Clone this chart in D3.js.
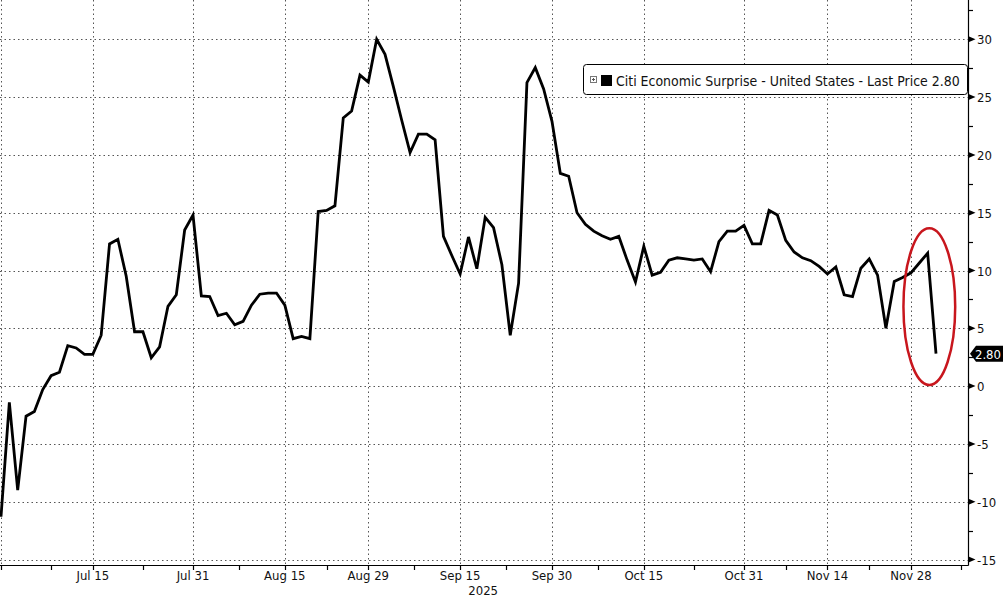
<!DOCTYPE html>
<html>
<head>
<meta charset="utf-8">
<script src="https://cdn.jsdelivr.net/npm/d3@7"></script>
<style>
  html, body { margin: 0; padding: 0; background: #fff; }
  svg text { font-family: 'DejaVu Sans Condensed', 'Liberation Sans Narrow', 'Liberation Sans', Arial, sans-serif; }
</style>
</head>
<body>
<svg id="surprise"></svg>
<script>
//series data (one value per weekday, Jun 30 2025 -> Dec 3 2025)
var startDate = '2025-06-30';
var endDate = '2025-12-03';
var surprise = [
  -11.3, -1.4, -9.0, -2.6, -2.2, -0.3, 0.9, 1.2, 3.5, 3.3,
  2.75, 2.75, 4.4, 12.3, 12.7, 9.5, 4.7, 4.7, 2.45, 3.4,
  6.9, 7.9, 13.5, 14.8, 7.8, 7.75, 6.1, 6.3, 5.3, 5.6,
  7.0, 7.95, 8.05, 8.05, 7.0, 4.1, 4.3, 4.1, 15.1, 15.2,
  15.6, 23.2, 23.8, 26.9, 26.3, 30.0, 28.7, 25.9, 23.0, 20.2,
  21.8, 21.8, 21.3, 12.95, 11.3, 9.7, 12.9, 10.15, 14.6, 13.7,
  10.5, 4.4, 8.9, 26.25, 27.55, 25.7, 22.9, 18.4, 18.15, 15.0,
  14.0, 13.4, 13.0, 12.7, 12.95, 10.9, 9.0, 12.1, 9.6, 9.85,
  10.9, 11.1, 11.0, 10.9, 11.0, 9.9, 12.5, 13.4, 13.4, 13.9,
  12.3, 12.3, 15.2, 14.8, 12.6, 11.6, 11.1, 10.85, 10.35, 9.7,
  10.3, 7.9, 7.75, 10.2, 11.0, 9.6, 5.0, 9.05, 9.4, 9.8,
  10.65, 11.5, 2.8
];

//axis ticks
var tickDates = ['2025-07-15', '2025-07-31', '2025-08-15', '2025-08-29', '2025-09-15',
                 '2025-09-30', '2025-10-15', '2025-10-31', '2025-11-14', '2025-11-28'];
var tickLabels = ['Jul 15', 'Jul 31', 'Aug 15', 'Aug 29', 'Sep 15',
                  'Sep 30', 'Oct 15', 'Oct 31', 'Nov 14', 'Nov 28'];
var minorTickIdx = [0, 6, 17, 28.5, 39, 49.5, 60.5, 71.5, 83, 94, 104, 115];
var yTicks = [-15, -10, -5, 0, 5, 10, 15, 20, 25, 30];
var yMinorTicks = [-12.5, -7.5, -2.5, 2.5, 7.5, 12.5, 17.5, 22.5, 27.5, 32.5];
var yearLabel = '2025';

//legend + last value
var seriesName = 'Citi Economic Surprise - United States';
var lastPrice = 2.80;

//highlight ellipse (index span, value span)
var highlight = {i0: 108.1, i1: 114.3, v0: 0.1, v1: 13.65};

function surpriseChart() {
    var svg = d3.select('#surprise')
        .attr('width', 1003)
        .attr('height', 597)
        .style('display', 'block')
        .style('background-color', '#fff');

    //plot extent
    var axisX = 968,
        axisY = 565;

    //weekday dates
    var days = d3.utcDay.range(new Date(startDate), d3.utcDay.offset(new Date(endDate), 1))
        .filter(d => d.getUTCDay() > 0 && d.getUTCDay() < 6);
    var dayKey = d3.utcFormat('%Y-%m-%d');
    var idx = new Map(days.map((d, i) => [dayKey(d), i]));

    var x = d3.scaleLinear().domain([0, surprise.length - 1]).range([1, 936]);
    var y = d3.scaleLinear().domain([-15, 30]).range([559.5, 39.3]);

    var grid = svg.append('g')
        .attr('class', 'grid')
        .attr('stroke', '#555')
        .attr('stroke-width', 1)
        .attr('stroke-dasharray', '1.5,3');

    //horizontal gridlines
    grid.selectAll('line.h').data(yTicks)
        .enter().append('line')
            .attr('class', 'h')
            .attr('x1', 0).attr('x2', axisX)
            .attr('y1', d => Math.round(y(d)) + 0.5)
            .attr('y2', d => Math.round(y(d)) + 0.5);

    //vertical gridlines
    grid.selectAll('line.v').data([0].concat(tickDates.map(d => idx.get(d))))
        .enter().append('line')
            .attr('class', 'v')
            .attr('x1', d => Math.round(x(d)) + 0.5)
            .attr('x2', d => Math.round(x(d)) + 0.5)
            .attr('y1', 0).attr('y2', axisY);

    //series line
    var line = d3.line()
        .x((d, i) => x(i))
        .y(d => y(d));

    svg.append('path')
        .datum(surprise)
        .attr('fill', 'none')
        .attr('stroke', '#000')
        .attr('stroke-width', 2.8)
        .attr('stroke-linejoin', 'miter')
        .attr('d', line);

    //red highlight ellipse
    svg.append('ellipse')
        .attr('cx', (x(highlight.i0) + x(highlight.i1)) / 2)
        .attr('cy', (y(highlight.v0) + y(highlight.v1)) / 2)
        .attr('rx', (x(highlight.i1) - x(highlight.i0)) / 2)
        .attr('ry', (y(highlight.v0) - y(highlight.v1)) / 2)
        .attr('fill', 'none')
        .attr('stroke', '#c8161d')
        .attr('stroke-width', 2.5);

    //axis lines
    var axes = svg.append('g').attr('stroke', '#000').attr('stroke-width', 1.2);
    axes.append('line')
        .attr('x1', 0).attr('x2', axisX + 0.5)
        .attr('y1', axisY + 0.5).attr('y2', axisY + 0.5);
    axes.append('line')
        .attr('x1', axisX + 0.5).attr('x2', axisX + 0.5)
        .attr('y1', 0).attr('y2', axisY + 0.5);

    //bottom ticks
    var xTickPos = tickDates.map(d => idx.get(d)).concat(minorTickIdx);
    axes.selectAll('line.xt').data(xTickPos)
        .enter().append('line')
            .attr('class', 'xt')
            .attr('x1', d => Math.round(x(d)) + 0.5)
            .attr('x2', d => Math.round(x(d)) + 0.5)
            .attr('y1', axisY).attr('y2', axisY + 5);

    svg.append('g')
        .selectAll('text').data(tickDates)
        .enter().append('text')
            .attr('x', d => x(idx.get(d)))
            .attr('y', 580)
            .attr('text-anchor', 'middle')
            .attr('font-size', 13)
            .attr('fill', '#111')
            .text((d, i) => tickLabels[i]);

    svg.append('text')
        .attr('x', x(idx.get('2025-09-15')) + 23)
        .attr('y', 594.5)
        .attr('text-anchor', 'middle')
        .attr('font-size', 13)
        .attr('fill', '#111')
        .text(yearLabel);

    //right axis ticks
    axes.selectAll('line.ym').data(yMinorTicks)
        .enter().append('line')
            .attr('class', 'ym')
            .attr('x1', axisX).attr('x2', axisX + 5)
            .attr('y1', d => Math.round(y(d)) + 0.5)
            .attr('y2', d => Math.round(y(d)) + 0.5);

    var yAxis = svg.append('g').attr('class', 'y-axis');
    yAxis.selectAll('path').data(yTicks)
        .enter().append('path')
            .attr('fill', '#000')
            .attr('d', d => 'M' + (axisX + 0.5) + ',' + (y(d) - 3) + 'L' + (axisX + 7.5) + ',' + y(d) + 'L' + (axisX + 0.5) + ',' + (y(d) + 3) + 'Z');
    yAxis.selectAll('text').data(yTicks)
        .enter().append('text')
            .attr('x', 977)
            .attr('y', d => y(d) + 5)
            .attr('font-size', 13)
            .attr('fill', '#111')
            .text(d => d < 0 ? '-' + Math.abs(d) : d);

    //last price tag
    var ly = y(lastPrice);
    svg.append('path')
        .attr('fill', '#000')
        .attr('d', 'M' + (axisX + 2) + ',' + ly + 'L' + (axisX + 8) + ',' + (ly - 8) + 'L1003,' + (ly - 8) +
                   'L1003,' + (ly + 8) + 'L' + (axisX + 8) + ',' + (ly + 8) + 'Z');
    svg.append('text')
        .attr('x', 1001)
        .attr('y', ly + 5)
        .attr('text-anchor', 'end')
        .attr('font-size', 13)
        .attr('fill', '#fff')
        .text(lastPrice.toFixed(2));

    //legend
    var legend = svg.append('g').attr('class', 'legend');
    legend.append('rect')
        .attr('x', 583.5).attr('y', 64.5)
        .attr('width', 384).attr('height', 30)
        .attr('rx', 3)
        .attr('fill', '#fff')
        .attr('stroke', '#000')
        .attr('stroke-width', 1);
    legend.append('rect')
        .attr('x', 590.5).attr('y', 76.5)
        .attr('width', 6).attr('height', 6)
        .attr('fill', '#fff')
        .attr('stroke', '#777')
        .attr('stroke-width', 1);
    legend.append('path')
        .attr('stroke', '#555')
        .attr('d', 'M592,79.5H595M593.5,78V81');
    legend.append('rect')
        .attr('x', 601).attr('y', 75)
        .attr('width', 11).attr('height', 11)
        .attr('fill', '#000');
    var label = legend.append('text')
        .attr('x', 616)
        .attr('y', 85.5)
        .attr('font-size', 14)
        .attr('fill', '#111')
        .text(seriesName + ' - Last Price ' + lastPrice.toFixed(2));

    //keep the legend text inside its box
    var w = label.node().getComputedTextLength();
    if (w > 344) label.attr('font-size', 14 * 344 / w);
}

surpriseChart();
</script>
</body>
</html>
